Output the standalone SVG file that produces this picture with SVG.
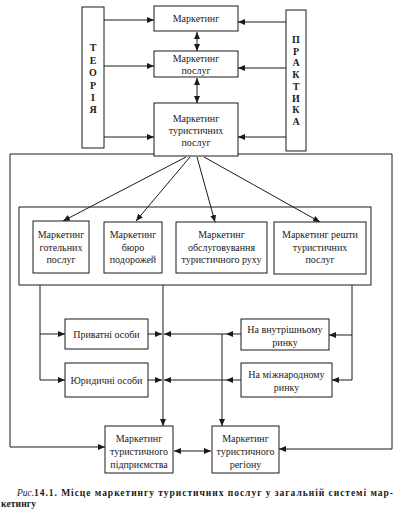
<svg xmlns="http://www.w3.org/2000/svg" width="402" height="514" viewBox="0 0 402 514">
<defs>
<marker id="ah" markerUnits="userSpaceOnUse" markerWidth="8" markerHeight="6" refX="7" refY="3" orient="auto-start-reverse">
<path d="M0,0 L7,3 L0,6 z" fill="#1a1a1a"/>
</marker>
<style>
.b{fill:#fff;stroke:#1a1a1a;stroke-width:1}
.f{fill:none;stroke:#1a1a1a;stroke-width:1}
.c{fill:none;stroke:#1a1a1a;stroke-width:1;marker-end:url(#ah)}
.d{fill:none;stroke:#1a1a1a;stroke-width:1;marker-start:url(#ah);marker-end:url(#ah)}
text{font-family:"Liberation Serif","DejaVu Serif",serif;font-size:10px;fill:#1a1a1a;text-anchor:middle;dominant-baseline:central}
.v{font-weight:bold;font-size:10px}
.cap{font-weight:bold;text-anchor:start;dominant-baseline:auto;font-size:9.5px}
.capi{font-style:italic;text-anchor:start;dominant-baseline:auto;font-size:9.5px}
</style>
</defs>
<rect width="402" height="514" fill="#fff"/>

<g id="frames">
<polyline class="f" points="10,447 10,154 392,154 392,449"/>
<rect class="f" x="19" y="207" width="352" height="78"/>
</g>

<g id="connectors">
<line class="c" x1="104" y1="20" x2="154" y2="20"/>
<line class="c" x1="104" y1="66" x2="154" y2="66"/>
<line class="c" x1="104" y1="137" x2="154" y2="137"/>
<line class="c" x1="286" y1="22" x2="238" y2="22"/>
<line class="c" x1="286" y1="68" x2="238" y2="68"/>
<line class="c" x1="286" y1="137" x2="238" y2="137"/>
<line class="d" x1="197" y1="32" x2="197" y2="51"/>
<line class="d" x1="197" y1="78" x2="197" y2="103"/>
<line class="c" x1="186" y1="157" x2="63" y2="221"/>
<line class="c" x1="190" y1="157" x2="136" y2="221"/>
<line class="c" x1="197" y1="157" x2="215" y2="222"/>
<line class="c" x1="204" y1="157" x2="320" y2="222"/>
<polyline class="f" points="40,285 40,380"/>
<line class="c" x1="40" y1="334" x2="65" y2="334"/>
<line class="c" x1="40" y1="380" x2="65" y2="380"/>
<line class="c" x1="148" y1="334" x2="162" y2="334"/>
<line class="c" x1="148" y1="380" x2="162" y2="380"/>
<line class="c" x1="163" y1="285" x2="163" y2="426"/>
<polyline class="f" points="352,285 352,380"/>
<line class="c" x1="352" y1="335" x2="329" y2="335"/>
<line class="c" x1="352" y1="380" x2="332" y2="380"/>
<line class="c" x1="241" y1="334" x2="226" y2="334"/>
<line class="c" x1="226" y1="334" x2="164" y2="334"/>
<line class="c" x1="241" y1="380" x2="226" y2="380"/>
<line class="c" x1="226" y1="380" x2="164" y2="380"/>
<line class="c" x1="222" y1="334" x2="222" y2="426"/>
<polyline class="c" points="10,447 105,447"/>
<polyline class="c" points="392,449 279,449"/>
<line class="d" x1="174" y1="451" x2="211" y2="451"/>
</g>

<g id="teoria">
<rect class="b" x="82" y="7" width="22" height="141"/>
<text class="v" x="93" y="47">Т</text>
<text class="v" x="93" y="60">Е</text>
<text class="v" x="93" y="72">О</text>
<text class="v" x="93" y="85">Р</text>
<text class="v" x="93" y="97">І</text>
<text class="v" x="93" y="109">Я</text>
</g>

<g id="praktyka">
<rect class="b" x="286" y="10" width="20" height="141"/>
<text class="v" x="296" y="39">П</text>
<text class="v" x="296" y="51">Р</text>
<text class="v" x="296" y="62.5">А</text>
<text class="v" x="296" y="74">К</text>
<text class="v" x="296" y="86">Т</text>
<text class="v" x="296" y="98">И</text>
<text class="v" x="296" y="109.5">К</text>
<text class="v" x="296" y="121">А</text>
</g>

<g id="marketing">
<rect class="b" x="154" y="6" width="84" height="25"/>
<text x="196" y="18.5">Маркетинг</text>
</g>

<g id="marketing-poslug">
<rect class="b" x="154" y="51" width="84" height="26"/>
<text x="196" y="58">Маркетинг</text>
<text x="196" y="70">послуг</text>
</g>

<g id="marketing-turystychnykh">
<rect class="b" x="154" y="103" width="84" height="53"/>
<text x="196" y="118">Маркетинг</text>
<text x="196" y="130">туристичних</text>
<text x="196" y="142">послуг</text>
</g>

<g id="hotel">
<rect class="b" x="33" y="221" width="56" height="52"/>
<text x="61" y="234">Маркетинг</text>
<text x="61" y="247">готельних</text>
<text x="61" y="259">послуг</text>
</g>

<g id="biuro">
<rect class="b" x="104" y="222" width="58" height="51"/>
<text x="133" y="234">Маркетинг</text>
<text x="133" y="247">бюро</text>
<text x="133" y="259">подорожей</text>
</g>

<g id="obsluh">
<rect class="b" x="176" y="222" width="91" height="51"/>
<text x="221.5" y="234">Маркетинг</text>
<text x="221.5" y="247">обслуговування</text>
<text x="221.5" y="259">туристичного руху</text>
</g>

<g id="reshta">
<rect class="b" x="274" y="222" width="92" height="52"/>
<text x="320" y="234">Маркетинг решти</text>
<text x="320" y="247">туристичних</text>
<text x="320" y="259">послуг</text>
</g>

<g id="pryvatni">
<rect class="b" x="65" y="319" width="83" height="30"/>
<text x="106.5" y="334">Приватні особи</text>
</g>

<g id="yurydychni">
<rect class="b" x="65" y="363" width="83" height="34"/>
<text x="106.5" y="380">Юридичні особи</text>
</g>

<g id="vnutrishnii">
<rect class="b" x="241" y="319" width="88" height="31"/>
<text x="285" y="329">На внутрішньому</text>
<text x="285" y="342">ринку</text>
</g>

<g id="mizhnarodnyi">
<rect class="b" x="241" y="363" width="91" height="34"/>
<text x="286.5" y="374">На міжнародному</text>
<text x="286.5" y="387">ринку</text>
</g>

<g id="pidpryiemstvo">
<rect class="b" x="105" y="426" width="68" height="47"/>
<text x="139" y="438">Маркетинг</text>
<text x="139" y="451">туристичного</text>
<text x="139" y="464">підприємства</text>
</g>

<g id="region">
<rect class="b" x="212" y="426" width="67" height="47"/>
<text x="245.5" y="438">Маркетинг</text>
<text x="245.5" y="451">туристичного</text>
<text x="245.5" y="464">регіону</text>
</g>

<g id="caption">
<text class="capi" x="17" y="496">Рис.</text>
<text class="cap" x="34" y="496" textLength="359" lengthAdjust="spacing">14.1. Місце маркетингу туристичних послуг у загальній системі мар-</text>
<text class="cap" x="1" y="506.5" textLength="35" lengthAdjust="spacing">кетингу</text>
</g>
</svg>
